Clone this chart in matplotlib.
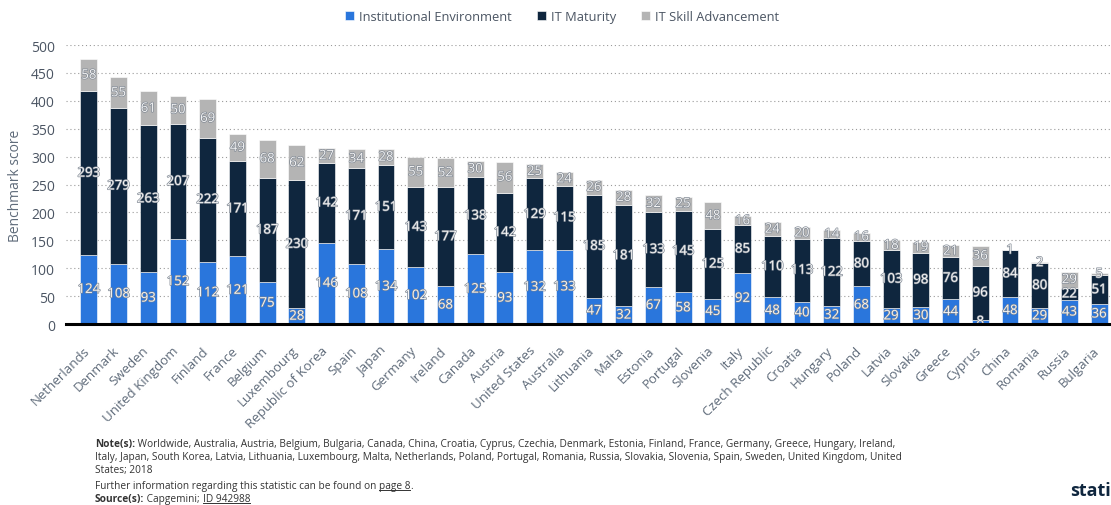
import matplotlib
matplotlib.use('Agg')
import matplotlib.pyplot as plt
import matplotlib.patheffects as pe
import matplotlib.transforms as mtransforms
from matplotlib.lines import Line2D
import numpy as np

plt.rcParams['font.family'] = ['Open Sans', 'DejaVu Sans']

countries = ['Netherlands', 'Denmark', 'Sweden', 'United Kingdom', 'Finland', 'France',
             'Belgium', 'Luxembourg', 'Republic of Korea', 'Spain', 'Japan', 'Germany',
             'Ireland', 'Canada', 'Austria', 'United States', 'Australia', 'Lithuania',
             'Malta', 'Estonia', 'Portugal', 'Slovenia', 'Italy', 'Czech Republic',
             'Croatia', 'Hungary', 'Poland', 'Latvia', 'Slovakia', 'Greece', 'Cyprus',
             'China', 'Romania', 'Russia', 'Bulgaria']
institutional = [124, 108, 93, 152, 112, 121, 75, 28, 146, 108, 134, 102, 68, 125, 93,
                 132, 133, 47, 32, 67, 58, 45, 92, 48, 40, 32, 68, 29, 30, 44, 8, 48,
                 29, 43, 36]
it_maturity = [293, 279, 263, 207, 222, 171, 187, 230, 142, 171, 151, 143, 177, 138, 142,
               129, 115, 185, 181, 133, 145, 125, 85, 110, 113, 122, 80, 103, 98, 76, 96,
               84, 80, 22, 51]
it_skill = [58, 55, 61, 50, 69, 49, 68, 62, 27, 34, 28, 55, 52, 30, 56, 25, 24, 26, 28,
            32, 25, 48, 16, 24, 20, 14, 16, 18, 19, 21, 36, 1, 2, 29, 5]
series_names = ['Institutional Environment', 'IT Maturity', 'IT Skill Advancement']
colors = ['#2a76dc', '#0f263e', '#b4b4b4']

fig = plt.figure(figsize=(11.11, 5.06), dpi=100)
ax = fig.add_axes([0.0594, 0.3577, 0.9406, 0.5513])

x = np.arange(len(countries))
w = 0.57
bottom = np.zeros(len(countries))
txt_fx = [pe.withStroke(linewidth=0.9, foreground='#7b8490')]
for vals, name, c in zip([institutional, it_maturity, it_skill], series_names, colors):
    vals = np.array(vals)
    ax.bar(x, vals, w, bottom=bottom, color=c, label=name, zorder=3,
           edgecolor='white', linewidth=0.4)
    for xi, b, v in zip(x, bottom, vals):
        ax.text(xi, b + v / 2, str(v), ha='center', va='center', fontsize=9.5,
                color='#f4f4f4', zorder=4, path_effects=txt_fx)
    bottom = bottom + vals

ax.set_xlim(-0.77, len(countries) - 0.6)
ax.set_ylim(0, 500)
ax.set_yticks(range(0, 501, 50))
ax.yaxis.grid(True, linestyle=(0, (1, 2.5)), color='#9a9a9a', linewidth=0.8, zorder=0)
ax.set_axisbelow(True)
for s in ['top', 'right', 'left']:
    ax.spines[s].set_visible(False)
ax.spines['bottom'].set_linewidth(2.2)
ax.spines['bottom'].set_color('black')
ax.spines['bottom'].set_zorder(5)
ax.tick_params(axis='y', length=0, labelsize=10, labelcolor='#4b5563', pad=8)
ax.tick_params(axis='x', length=0, labelsize=9.5, labelcolor='#5f6b7a', pad=14)
ax.set_xticks(x)
ax.set_xticklabels(countries, rotation=45, ha='right', rotation_mode='anchor')
shift = mtransforms.ScaledTranslation(-6 / 100, 0, fig.dpi_scale_trans)
for lbl in ax.get_xticklabels():
    lbl.set_transform(lbl.get_transform() + shift)
ax.set_ylabel('Benchmark score', fontsize=10, color='#5f6b7a', labelpad=6)

fig.legend(loc='upper center', bbox_to_anchor=(0.506, 1.002), ncol=3, frameon=False,
           fontsize=9.3, handlelength=0.7, handleheight=0.7, handletextpad=0.4,
           columnspacing=1.9, labelcolor='#4b5563')

# notes / source block
note_color = '#333333'
fs = 7.3
x0 = 0.0855
y_note1, y_note2, y_note3 = 0.1166, 0.091, 0.0653
y_info, y_src = 0.0336, 0.008

t1 = fig.text(x0, y_note1, 'Note(s):', fontsize=fs, fontweight='bold', color=note_color,
              va='baseline')
fig.text(x0, y_note2,
         'Italy, Japan, South Korea, Latvia, Lithuania, Luxembourg, Malta, Netherlands, Poland, Portugal, Romania, Russia, Slovakia, Slovenia, Spain, Sweden, United Kingdom, United',
         fontsize=fs, color=note_color, va='baseline')
fig.text(x0, y_note3, 'States; 2018', fontsize=fs, color=note_color, va='baseline')
t_info = fig.text(x0, y_info, 'Further information regarding this statistic can be found on ',
                  fontsize=fs, color=note_color, va='baseline')
t2 = fig.text(x0, y_src, 'Source(s):', fontsize=fs, fontweight='bold', color=note_color,
              va='baseline')

fig.canvas.draw()
r = fig.canvas.get_renderer()
W, H = fig.bbox.width, fig.bbox.height


def after(t, s, y):
    # place text s right after text t on the same baseline
    e = t.get_window_extent(r)
    return fig.text(e.x1 / W, y, s, fontsize=fs, color=note_color, va='baseline')


after(t1, ' Worldwide, Australia, Austria, Belgium, Bulgaria, Canada, China, Croatia, Cyprus, Czechia, Denmark, Estonia, Finland, France, Germany, Greece, Hungary, Ireland,', y_note1)
p8 = after(t_info, 'page 8', y_info)
fig.canvas.draw()
after(p8, '.', y_info)
cap = after(t2, ' Capgemini; ', y_src)
fig.canvas.draw()
idt = after(cap, 'ID 942988', y_src)
fig.canvas.draw()
for t, yb in [(p8, y_info), (idt, y_src)]:
    e = t.get_window_extent(r)
    yl = yb - 2.0 / H
    fig.add_artist(Line2D([e.x0 / W, e.x1 / W], [yl, yl], transform=fig.transFigure,
                          color=note_color, linewidth=0.7))

fig.text(0.963, 0.02, 'statista', fontsize=13, fontweight='bold', color='#0f263e')

fig.savefig('out.png', dpi=100)
